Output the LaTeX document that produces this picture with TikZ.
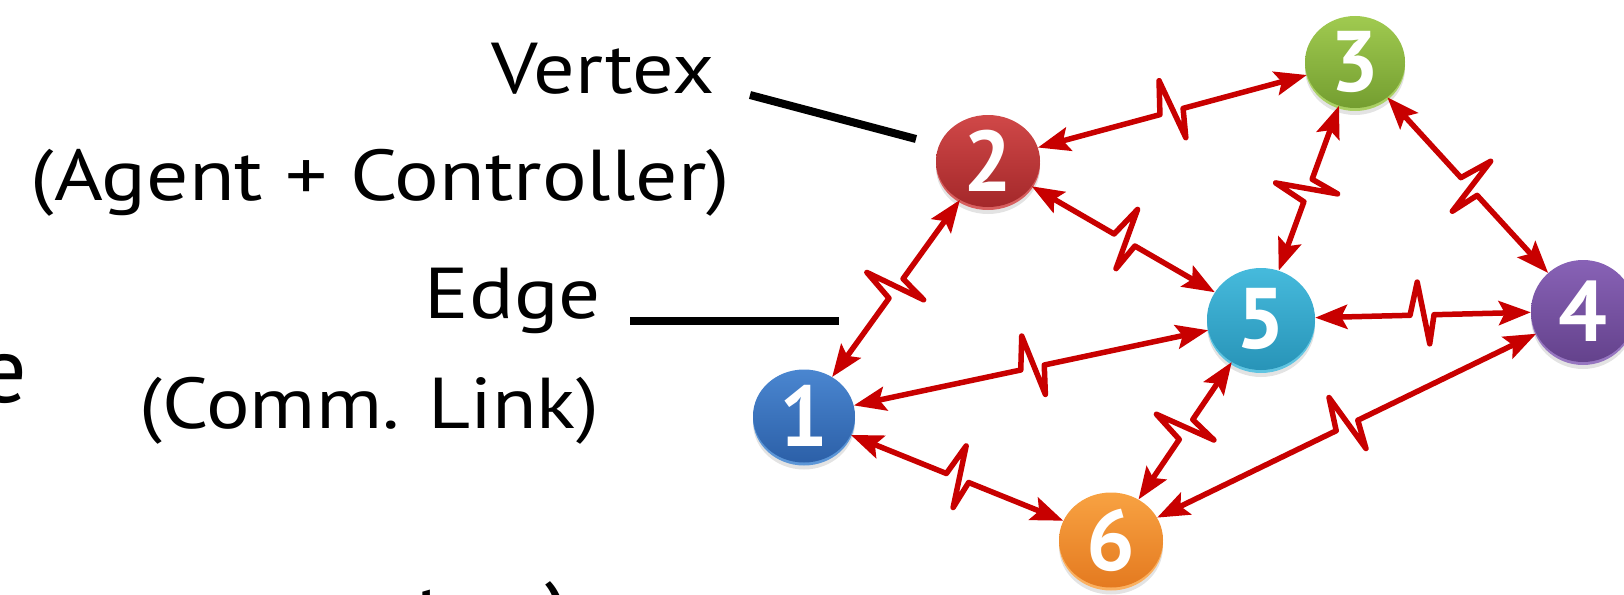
\documentclass[tikz,border=0pt]{standalone}
\usepackage{fontspec}
\setmainfont{PT Sans}
\usepackage{graphicx}
\usetikzlibrary{calc,shapes.geometric,arrows.meta,shadows}
\definecolor{linkred}{HTML}{C80000}
\definecolor{atop}{RGB}{74,134,208}\definecolor{abot}{RGB}{44,96,168}\definecolor{arim}{RGB}{92,150,215}
\definecolor{btop}{RGB}{208,72,72}\definecolor{bbot}{RGB}{164,40,42}\definecolor{brim}{RGB}{215,95,95}
\definecolor{ctop}{RGB}{160,202,80}\definecolor{cbot}{RGB}{116,158,48}\definecolor{crim}{RGB}{170,208,100}
\definecolor{dtop}{RGB}{136,98,182}\definecolor{dbot}{RGB}{100,66,140}\definecolor{drim}{RGB}{150,118,192}
\definecolor{etop}{RGB}{70,186,220}\definecolor{ebot}{RGB}{40,148,184}\definecolor{erim}{RGB}{96,196,225}
\definecolor{ftop}{RGB}{248,162,66}\definecolor{fbot}{RGB}{228,122,32}\definecolor{frim}{RGB}{250,176,96}
\begin{document}
\begin{tikzpicture}[x=1pt,y=-1pt,
  vtx/.style={ellipse, inner sep=0pt, text=white,
    font=\fontsize{86}{86}\selectfont\bfseries,
    drop shadow={opacity=0.22,shadow xshift=0pt,shadow yshift=-7pt},
    general shadow={fill=#1rim, shadow yshift=-3pt},
    top color=#1top, bottom color=#1bot},
  lbl/.style={font=\fontsize{72}{86}\selectfont, inner sep=0pt, anchor=base east},
  bigtxt/.style={font=\fontsize{94}{94}\selectfont, inner sep=0pt},
  pointer/.style={draw=black, line width=8pt},
  link/.style={draw=linkred, line width=5.5pt, line join=round, <->,
    >={Stealth[length=32pt,width=24pt,inset=6pt]}},
  zz/.style={to path={
    -- ($(\tikztostart)!0.5!(\tikztotarget)!-12pt!(\tikztotarget)$)
    -- ($(\tikztostart)!0.5!(\tikztotarget)!-4pt!(\tikztotarget)!33pt!#1:(\tikztotarget)$)
    -- ($(\tikztostart)!0.5!(\tikztotarget)!7pt!(\tikztotarget)!-29pt!#1:(\tikztotarget)$)
    -- ($(\tikztostart)!0.5!(\tikztotarget)!12pt!(\tikztotarget)$)
    -- (\tikztotarget)}},
  zz/.default=90
]
\useasboundingbox (0,0) rectangle (1624,594);
\clip (0,0) rectangle (1624,594);

% labels
\node[lbl] (vtxlbl) at (715,93) {\resizebox{223pt}{\height}{Vertex}};
\node[lbl] (agentlbl) at (730,200) {\resizebox{699pt}{\height}{(Agent + Controller)}};
\node[lbl] (edgelbl) at (601,318) {\resizebox{176pt}{\height}{Edge}};
\node[lbl] (commlbl) at (599,428) {\resizebox{459pt}{\height}{(Comm. Link)}};
\node[bigtxt, anchor=base east] (bige) at (27,402) {e};
\node[bigtxt, anchor=base west] (bott) at (414,648) {t};
\node[bigtxt, anchor=base east] (botp) at (572,648) {)};

% pointer lines
\coordinate (vA) at (750,95);
\coordinate (vB) at (916,139);
\coordinate (eA) at (630,321);
\coordinate (eB) at (839,321);
\draw[pointer] (vA) -- (vB);
\draw[pointer] (eA) -- (eB);

% vertices
\node[vtx=a, minimum width=102pt, minimum height=93pt] (n1) at (804,416) {1};
\node[vtx=b, minimum width=104pt, minimum height=92pt] (n2) at (988,161) {2};
\node[vtx=c, minimum width=100pt, minimum height=92pt] (n3) at (1355,62) {3};
\node[vtx=d, minimum width=104pt, minimum height=102pt] (n4) at (1583,311) {4};
\node[vtx=e, minimum width=108pt, minimum height=102pt] (n5) at (1261,319) {5};
\node[vtx=f, minimum width=104pt, minimum height=95pt] (n6) at (1111,540) {6};

% links
\draw[link] (n1) to[zz] (n2);
\draw[link] (n2) to[zz] (n3);
\draw[link] (n2) to[zz] (n5);
\draw[link] (n5) to[zz] (n3);
\draw[link] (n3) to[zz] (n4);
\draw[link] (n5) to[zz] (n4);
\draw[link] (n1) to[zz] (n5);
\draw[link] (n1) to[zz] (n6);
\draw[link] (n6) to[zz] (n5);
\draw[link] (n6) to[zz] (n4);
\end{tikzpicture}
\end{document}
